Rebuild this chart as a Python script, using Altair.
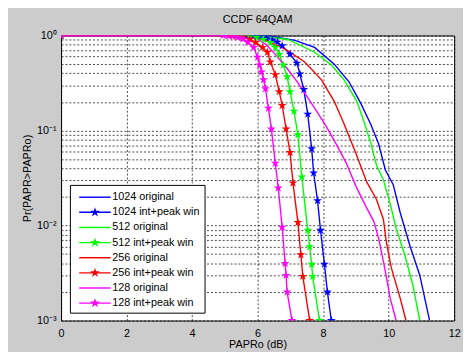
import math
import altair as alt
import pandas as pd

# ---------------- data ----------------
series_names = [
    "1024 original", "1024 int+peak win",
    "512 original", "512 int+peak win",
    "256 original", "256 int+peak win",
    "128 original", "128 int+peak win",
]
series_colors = ["#0000ff", "#0000ff", "#00ff00", "#00ff00",
                 "#ff0000", "#ff0000", "#ff00ff", "#ff00ff"]

x_1024_orig = [0, 6.3, 7.14, 7.74, 8.34, 8.79, 9.15, 9.45, 9.69, 9.9, 10.14, 10.35, 10.65, 10.95, 11.25]
y_1024_orig = [1, 1, 0.888, 0.751, 0.5, 0.326, 0.193, 0.117, 0.0729, 0.0384, 0.0269, 0.0138, 0.00612, 0.003, 0.001]

x_1024_pw = [0, 5.64, 5.85, 6.06, 6.27, 6.45, 6.6, 6.75, 6.99, 7.2, 7.29, 7.41, 7.53, 7.65, 7.71, 7.83, 7.92, 8.04, 8.13, 8.25]
y_1024_pw = [1, 1, 0.99, 0.976, 0.945, 0.9, 0.85, 0.78, 0.636, 0.513, 0.395, 0.27, 0.149, 0.0645, 0.0357, 0.0183, 0.00894, 0.00391, 0.002, 0.001]

x_512_orig = [0, 6.0, 6.93, 7.74, 8.25, 8.64, 9.03, 9.24, 9.45, 9.63, 9.84, 10.05, 10.23, 10.5, 10.74, 10.95]
y_512_orig = [1, 1, 0.909, 0.667, 0.49, 0.342, 0.203, 0.126, 0.0747, 0.0431, 0.0302, 0.0168, 0.0093, 0.00481, 0.00235, 0.001]

x_512_pw = [0, 5.34, 5.55, 5.76, 5.97, 6.18, 6.39, 6.54, 6.66, 6.78, 6.9, 6.99, 7.11, 7.23, 7.35, 7.53, 7.59, 7.65, 7.68, 7.89]
y_512_pw = [1, 1, 0.99, 0.976, 0.953, 0.909, 0.846, 0.751, 0.636, 0.49, 0.368, 0.257, 0.16, 0.0903, 0.0325, 0.00894, 0.006, 0.00391, 0.00292, 0.001]

x_256_orig = [0, 5.8, 6.24, 6.84, 7.44, 7.95, 8.34, 8.64, 9.0, 9.33, 9.63, 9.84, 9.93, 10.08, 10.35, 10.53]
y_256_orig = [1, 1, 0.89, 0.72, 0.526, 0.342, 0.203, 0.117, 0.0575, 0.0288, 0.0188, 0.0116, 0.0067, 0.0036, 0.00173, 0.001]

x_256_pw = [0, 5.13, 5.34, 5.55, 5.76, 5.94, 6.15, 6.3, 6.39, 6.54, 6.66, 6.75, 6.87, 6.99, 7.08, 7.23, 7.32, 7.38, 7.59]
y_256_pw = [1, 1, 0.985, 0.96, 0.915, 0.846, 0.751, 0.667, 0.526, 0.386, 0.257, 0.184, 0.104, 0.0588, 0.0281, 0.0108, 0.00493, 0.00292, 0.001]

x_128_orig = [0, 5.7, 6.0, 6.3, 6.6, 6.9, 7.2, 7.5, 7.8, 8.1, 8.4, 8.7, 9.0, 9.3, 9.55, 9.7, 9.9, 10.05, 10.23]
y_128_orig = [1, 1, 0.93, 0.78, 0.6, 0.45, 0.33, 0.23, 0.16, 0.11, 0.072, 0.046, 0.026, 0.016, 0.011, 0.0072, 0.0033, 0.0017, 0.001]

x_128_pw = [0, 4.95, 5.1, 5.25, 5.4, 5.55, 5.7, 5.88, 6.0, 6.06, 6.12, 6.18, 6.24, 6.33, 6.42, 6.54, 6.63, 6.75, 6.84, 6.87, 6.9, 7.05]
y_128_pw = [1, 1, 0.998, 0.985, 0.96, 0.92, 0.85, 0.751, 0.592, 0.49, 0.414, 0.342, 0.276, 0.172, 0.104, 0.0452, 0.0249, 0.0096, 0.00398, 0.00299, 0.002, 0.001]

x_ticks = [0, 2, 4, 6, 8, 10, 12]
y_grid = [0.001, 0.002, 0.003, 0.004, 0.005, 0.006, 0.007, 0.008, 0.009,
          0.01, 0.02, 0.03, 0.04, 0.05, 0.06, 0.07, 0.08, 0.09,
          0.1, 0.2, 0.3, 0.4, 0.5, 0.6, 0.7, 0.8, 0.9, 1]

series_xy = [
    (x_1024_orig, y_1024_orig), (x_1024_pw, y_1024_pw),
    (x_512_orig, y_512_orig), (x_512_pw, y_512_pw),
    (x_256_orig, y_256_orig), (x_256_pw, y_256_pw),
    (x_128_orig, y_128_orig), (x_128_pw, y_128_pw),
]

rows = []
for name, (xs, ys) in zip(series_names, series_xy):
    for i, (xv, yv) in enumerate(zip(xs, ys)):
        rows.append({"series": name, "x": xv, "y": yv, "i": i,
                     "star": "int+peak" in name})
df = pd.DataFrame(rows)
df_star = df[df["star"]]
df_legend = df[df["i"] == 0]

# ---------------- marker shapes ----------------
def star_pts(cx, cy, R):
    pts = []
    for k in range(10):
        a = math.radians(-90 + 36 * k)
        r = R if k % 2 == 0 else R * 0.382
        pts.append((cx + r * math.cos(a), cy + r * math.sin(a)))
    return "M" + "L".join(f"{px:.3f},{py:.3f}" for px, py in pts) + "Z"

star_marker = star_pts(0, 0, 1)
leg_line = "M-0.375,-0.09L3.625,-0.09L3.625,0.09L-0.375,0.09Z"
leg_star = leg_line + star_pts(1.625, 0, 0.65)
legend_shapes = [leg_line, leg_star] * 4

FONT = "Liberation Sans"

xscale = alt.Scale(domain=[0, 12], nice=False, zero=False)
yscale = alt.Scale(type="log", domain=[0.001, 1], nice=False)
cscale = alt.Scale(domain=series_names, range=series_colors)

label_expr = ("datum.value == 1 ? '10\u2070' : datum.value == 0.1 ? '10\u207b\u00b9' : "
              "datum.value == 0.01 ? '10\u207b\u00b2' : datum.value == 0.001 ? '10\u207b\u00b3' : ''")

xaxis = alt.Axis(values=x_ticks, title="PAPRo (dB)", grid=True, gridDash=[2, 2],
                 gridColor="black", gridWidth=0.8, gridOpacity=0.9, ticks=False, domain=False,
                 labelFont=FONT, labelFontSize=11, labelColor="black", labelPadding=7,
                 labelFlush=False, labelOverlap=False,
                 titleFont=FONT, titleFontSize=11, titleFontWeight="normal",
                 titleColor="black", titlePadding=0)
yaxis = alt.Axis(values=y_grid, labelExpr=label_expr, title="Pr(PAPR>PAPRo)", grid=True,
                 gridDash=[2, 2], gridColor="black", gridWidth=0.8, gridOpacity=0.9,
                 ticks=False, domain=False, labelFont=FONT, labelFontSize=11,
                 labelColor="black", labelPadding=5, labelOverlap=False, labelFlush=False,
                 titleFont=FONT, titleFontSize=11, titleFontWeight="normal",
                 titleColor="black", titlePadding=4)

legend_layer = alt.Chart(df_legend).mark_point(filled=True, opacity=0, size=256).encode(
    x=alt.X("x:Q", scale=xscale, axis=xaxis),
    y=alt.Y("y:Q", scale=yscale, axis=yaxis),
    color=alt.Color("series:N", scale=cscale, legend=alt.Legend(
        title=None, orient="none", legendX=9, legendY=152,
        fillColor="white", strokeColor="black", padding=4.5, rowPadding=2.4,
        symbolSize=256, symbolStrokeWidth=0, symbolOpacity=1,
        labelFont=FONT, labelFontSize=11, labelColor="black", labelOffset=22.5,
        labelLimit=200)),
    shape=alt.Shape("series:N", scale=alt.Scale(domain=series_names, range=legend_shapes)),
)

lines = alt.Chart(df).mark_line(strokeWidth=1.4, clip=True).encode(
    x=alt.X("x:Q", scale=xscale),
    y=alt.Y("y:Q", scale=yscale),
    color=alt.Color("series:N", scale=cscale),
    detail="series:N",
    order="i:Q",
)

stars = alt.Chart(df_star).mark_point(shape=star_marker, filled=True, size=90,
                                      opacity=1, clip=True).encode(
    x=alt.X("x:Q", scale=xscale),
    y=alt.Y("y:Q", scale=yscale),
    color=alt.Color("series:N", scale=cscale),
)

chart = alt.layer(legend_layer, lines, stars).properties(
    width=400, height=290,
    title=alt.TitleParams("CCDF 64QAM", font=FONT, fontSize=11, fontWeight="normal",
                          color="black", offset=5),
    padding={"left": 54, "top": 25, "right": 9, "bottom": 29},
    autosize=alt.AutoSizeParams(type="none"),
    background="#cccccc",
).configure_view(fill="white", stroke="black", strokeWidth=1)

chart.save("out.html", embed_options={"renderer": "svg", "actions": False})
